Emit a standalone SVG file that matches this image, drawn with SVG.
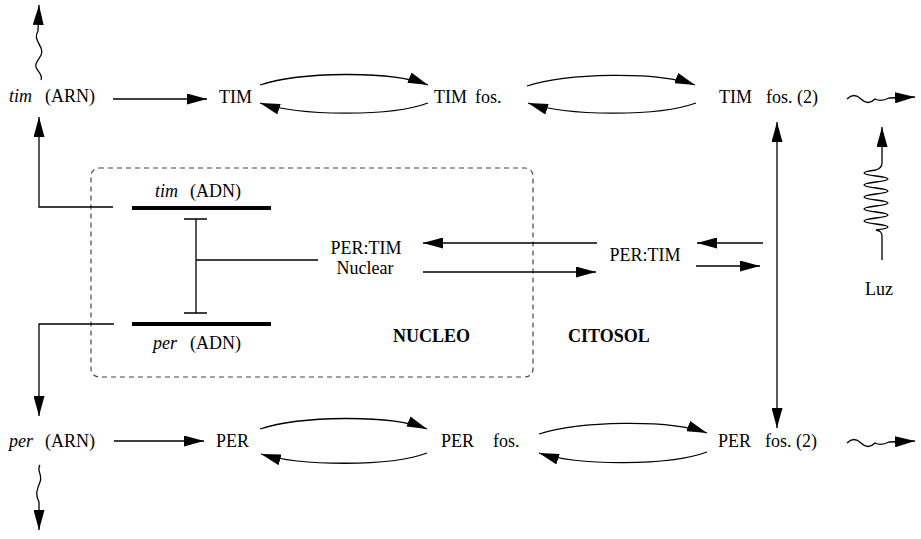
<svg xmlns="http://www.w3.org/2000/svg" width="921" height="539" viewBox="0 0 921 539">
  <style>
    text { font-family: "Liberation Serif", "DejaVu Serif", "Times New Roman", serif; font-size: 18px; fill: #000; }
    .it { font-style: italic; }
    .bold { font-weight: bold; }
    .ln { fill: none; stroke: #000; stroke-width: 1.3; }
    .arr { marker-end: url(#head); }
    .both { marker-start: url(#headStart); marker-end: url(#head); }
    .dna { stroke: #000; stroke-width: 4; }
    .box { fill: none; stroke: #444; stroke-width: 1.2; stroke-dasharray: 5 4; }
  </style>
  <defs>
    <marker id="head" markerUnits="userSpaceOnUse" markerWidth="20" markerHeight="11" viewBox="0 0 20 11" refX="20" refY="5.5" orient="auto">
      <path d="M0,0 L20,5.5 L0,11 z" fill="#000"/>
    </marker>
    <marker id="headStart" markerUnits="userSpaceOnUse" markerWidth="20" markerHeight="11" viewBox="0 0 20 11" refX="20" refY="5.5" orient="auto-start-reverse">
      <path d="M0,0 L20,5.5 L0,11 z" fill="#000"/>
    </marker>
  </defs>

  <!-- nucleus compartment -->
  <g id="nucleus">
    <rect class="box" x="91" y="168" width="442" height="209" rx="8"/>
  </g>

  <!-- top row: tim -->
  <g id="tim-arn"><text x="9" y="102"><tspan class="it">tim</tspan><tspan x="45">(ARN)</tspan></text></g>
  <g id="tim"><text x="219" y="103">TIM</text></g>
  <g id="tim-fos"><text x="434" y="103">TIM<tspan x="475">fos.</tspan></text></g>
  <g id="tim-fos2"><text x="719" y="103">TIM<tspan x="766">fos. (2)</tspan></text></g>

  <!-- genes -->
  <g id="tim-adn">
    <line class="dna" x1="132" y1="208" x2="271" y2="208"/>
    <text x="155" y="197"><tspan class="it">tim</tspan><tspan x="190">(ADN)</tspan></text>
  </g>
  <g id="per-adn">
    <line class="dna" x1="132" y1="324" x2="271" y2="324"/>
    <text x="153" y="349"><tspan class="it">per</tspan><tspan x="190">(ADN)</tspan></text>
  </g>

  <!-- PER:TIM complexes -->
  <g id="pertim-nuclear">
    <text x="366" y="254" text-anchor="middle">PER:TIM</text>
    <text x="365" y="274" text-anchor="middle">Nuclear</text>
  </g>
  <g id="pertim"><text x="645" y="261" text-anchor="middle">PER:TIM</text></g>

  <!-- compartment labels -->
  <g id="labels">
    <text class="bold" x="393" y="342">NUCLEO</text>
    <text class="bold" x="568" y="342">CITOSOL</text>
  </g>

  <!-- light -->
  <g id="luz">
    <text x="865" y="295">Luz</text>
  </g>

  <!-- bottom row: per -->
  <g id="per-arn"><text x="9" y="447"><tspan class="it">per</tspan><tspan x="45">(ARN)</tspan></text></g>
  <g id="per"><text x="216" y="447">PER</text></g>
  <g id="per-fos"><text x="441" y="447">PER<tspan x="493">fos.</tspan></text></g>
  <g id="per-fos2"><text x="718" y="447">PER<tspan x="765">fos. (2)</tspan></text></g>

  <g id="connectors">
    <!-- transcription outputs -->
    <path class="ln arr" d="M113,207 H39 V117"/>
    <path class="ln arr" d="M114,324 H39 V416"/>
    <!-- degradation (wavy) -->
    <path class="ln arr" d="M41,80 C44,74 34,70 36,64 S44,55 41,48 S34,38 38,31 L39,5"/>
    <path class="ln arr" d="M40,465 C36,470 43,475 40,482 S35,495 39,502 L39,530"/>
    <path class="ln arr" d="M847,99 q7,-7 14,0 t14,0 q6,3 14,-1 L915,97"/>
    <path class="ln arr" d="M847,443 q7,-7 14,0 t14,0 q6,3 14,-1 L915,441"/>

    <!-- translation -->
    <path class="ln arr" d="M113,99 H207"/>
    <path class="ln arr" d="M114,441 H204"/>

    <!-- TIM phosphorylation -->
    <path class="ln arr" d="M260,85 C300,72 390,70 428,85"/>
    <path class="ln arr" d="M428,103 C390,117 300,116 260,103"/>
    <path class="ln arr" d="M527,86 C567,73 657,71 695,85"/>
    <path class="ln arr" d="M696,103 C657,117 567,116 528,103"/>

    <!-- PER phosphorylation -->
    <path class="ln arr" d="M260,429 C300,416 390,414 427,429"/>
    <path class="ln arr" d="M427,453 C390,467 300,466 261,454"/>
    <path class="ln arr" d="M539,434 C579,421 669,419 707,433"/>
    <path class="ln arr" d="M707,452 C669,466 579,466 539,453"/>

    <!-- complex formation / dissociation -->
    <path class="ln both" d="M777,122 V428"/>
    <path class="ln arr" d="M763,243 H697"/>
    <path class="ln arr" d="M696,266 H760"/>

    <!-- nuclear import / export -->
    <path class="ln arr" d="M597,243 H423"/>
    <path class="ln arr" d="M423,272 H596"/>

    <!-- repression of transcription -->
    <path class="ln" d="M318,260 H196"/>
    <path class="ln" d="M196,219 V313 M184,219 H207 M184,313 H207"/>

    <!-- light input -->
    <path class="ln arr" d="M882,260 V236 C882,232 880,231 876,230 Q900,227 876,224 T876,218 T876,212 T876,206 T876,200 T876,194 T876,188 T876,182 T876,176 T876,170 Q882,168 882,163 L882,127"/>
  </g>
</svg>
